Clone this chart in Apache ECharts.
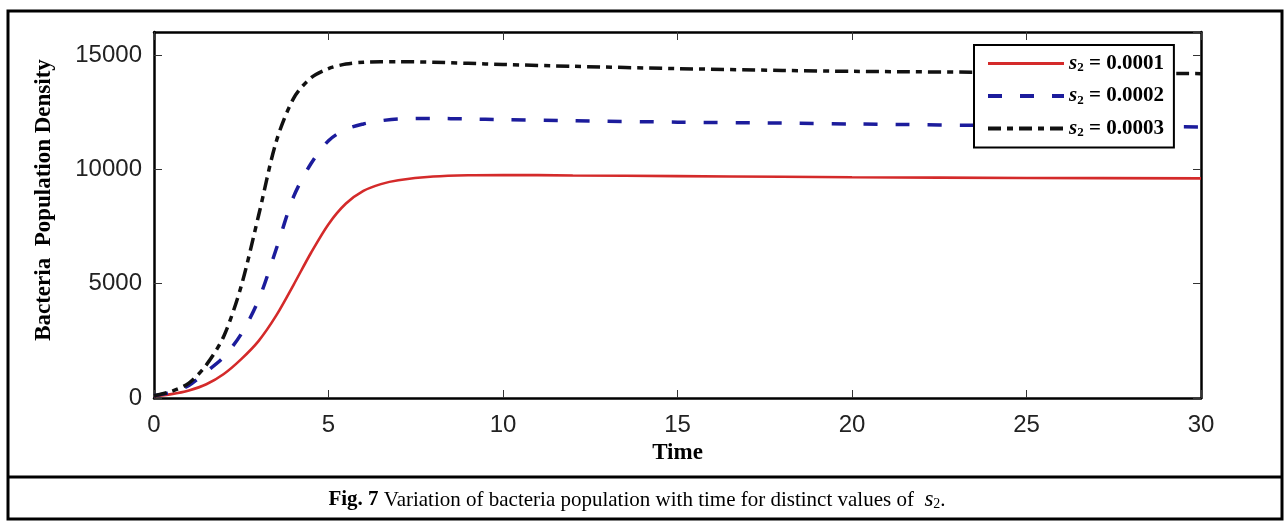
<!DOCTYPE html>
<html>
<head>
<meta charset="utf-8">
<title>Bacteria population vs time</title>
<script src="https://cdn.jsdelivr.net/npm/echarts@6/dist/echarts.min.js"></script>
<style>
  html, body { margin: 0; padding: 0; background: #fff; }
  #main { width: 1287px; height: 525px; }
</style>
</head>
<body>
<div id="main"></div>
<script>
// values
var timePoints = [0, 0.5, 1, 1.5, 2, 2.5, 3, 3.5, 4, 4.5, 5, 5.5, 6, 6.5, 7, 8, 9, 10, 12, 15, 18, 20, 25, 30];
var pop0001 = [80, 170, 330, 600, 1050, 1700, 2500, 3600, 4950, 6350, 7600, 8500, 9050, 9350, 9520, 9680, 9740, 9750, 9730, 9700, 9670, 9650, 9620, 9600];
var pop0002 = [100, 250, 550, 1150, 1800, 2800, 4300, 6500, 8800, 10250, 11250, 11750, 11980, 12120, 12200, 12220, 12200, 12170, 12120, 12060, 12020, 11980, 11900, 11850];
var pop0003 = [100, 290, 650, 1450, 2700, 4900, 8000, 11200, 13100, 14000, 14400, 14600, 14680, 14700, 14700, 14680, 14630, 14580, 14500, 14400, 14320, 14280, 14230, 14180];
var s2Values = ['0.0001', '0.0002', '0.0003'];
var xTicks = { min: 0, max: 30, interval: 5 };
var yTicks = { min: 0, max: 16000, interval: 5000 };

function pairs(ys) {
  return timePoints.map(function (t, i) { return [t, ys[i]]; });
}

var myChart = echarts.init(document.getElementById('main'));

var serifFont = '"Liberation Serif", "Times New Roman", serif';
var sansFont = '"Liberation Sans", Arial, sans-serif';

var boxAxis = {
  axisLine: { show: true, onZero: false, lineStyle: { color: '#000', width: 2.5 } },
  axisTick: { show: true, inside: true, length: 8, lineStyle: { color: '#333', width: 1 } },
  splitLine: { show: false }
};

var option = {
  backgroundColor: '#fff',
  animation: false,
  grid: { left: 154, top: 32, width: 1047, height: 366 },
  legend: {
    orient: 'vertical',
    left: 974,
    top: 45,
    z: 20,
    padding: [8, 10, 8, 12],
    borderColor: '#000',
    borderWidth: 2,
    backgroundColor: '#fff',
    itemWidth: 76,
    itemHeight: 14,
    itemGap: 11,
    itemStyle: { opacity: 0 },
    data: [
      { name: s2Values[0], lineStyle: { width: 3 } },
      { name: s2Values[1], lineStyle: { width: 4 } },
      { name: s2Values[2], lineStyle: { width: 4 } }
    ],
    formatter: function (name) {
      return '{s|s}{sub|2}{v| = ' + name + '}';
    },
    textStyle: {
      rich: {
        s: { fontFamily: serifFont, fontStyle: 'italic', fontWeight: 'bold', fontSize: 21, color: '#000' },
        sub: { fontFamily: serifFont, fontWeight: 'bold', fontSize: 13, color: '#000', padding: [9, 0, 0, 0] },
        v: { fontFamily: serifFont, fontWeight: 'bold', fontSize: 21, color: '#000' }
      }
    }
  },
  xAxis: [
    Object.assign({
      type: 'value', position: 'bottom',
      min: xTicks.min, max: xTicks.max, interval: xTicks.interval,
      name: 'Time', nameLocation: 'middle', nameGap: 42,
      nameTextStyle: { fontFamily: serifFont, fontWeight: 'bold', fontSize: 23, color: '#000' },
      axisLabel: { margin: 15, fontFamily: sansFont, fontSize: 24, color: '#222' }
    }, boxAxis),
    Object.assign({
      type: 'value', position: 'top',
      min: xTicks.min, max: xTicks.max, interval: xTicks.interval,
      axisLabel: { show: false }
    }, boxAxis)
  ],
  yAxis: [
    Object.assign({
      type: 'value', position: 'left',
      min: yTicks.min, max: yTicks.max, interval: yTicks.interval,
      name: 'Bacteria  Population Density', nameLocation: 'middle', nameGap: 98,
      nameTextStyle: { fontFamily: serifFont, fontWeight: 'bold', fontSize: 23, color: '#000', padding: [0, 0, 0, 30] },
      axisLabel: {
        margin: 12, fontFamily: sansFont, fontSize: 24, color: '#222', showMaxLabel: false,
        formatter: function (v) { return String(v); }
      }
    }, boxAxis),
    Object.assign({
      type: 'value', position: 'right',
      min: yTicks.min, max: yTicks.max, interval: yTicks.interval,
      axisLabel: { show: false }
    }, boxAxis)
  ],
  series: [
    {
      name: s2Values[0], type: 'line', smooth: 0.3, symbol: 'none', z: 3,
      data: pairs(pop0001),
      lineStyle: { color: '#d42a2a', width: 2.6, type: 'solid' },
      itemStyle: { color: '#d42a2a' }
    },
    {
      name: s2Values[1], type: 'line', smooth: 0.3, symbol: 'none', z: 4,
      data: pairs(pop0002),
      lineStyle: { color: '#1c1c9c', width: 3.5, type: [14, 18] },
      itemStyle: { color: '#1c1c9c' }
    },
    {
      name: s2Values[2], type: 'line', smooth: 0.3, symbol: 'none', z: 5,
      data: pairs(pop0003),
      lineStyle: { color: '#111', width: 3.5, type: [13, 6, 6, 6] },
      itemStyle: { color: '#111' }
    }
  ],
  graphic: [
    {
      type: 'rect', z: 100, silent: true,
      shape: { x: 8, y: 11, width: 1274, height: 508 },
      style: { fill: 'none', stroke: '#000', lineWidth: 3 }
    },
    {
      type: 'line', z: 100, silent: true,
      shape: { x1: 8, y1: 477, x2: 1282, y2: 477 },
      style: { stroke: '#000', lineWidth: 3 }
    },
    {
      type: 'text', z: 100, silent: true,
      x: 637, y: 500,
      style: {
        text: '{b|Fig. 7} Variation of bacteria population with time for distinct values of  {i|s}{sub|2}.',
        align: 'center', verticalAlign: 'middle',
        fontFamily: serifFont, fontSize: 21, fill: '#000',
        rich: {
          b: { fontFamily: serifFont, fontWeight: 'bold', fontSize: 21 },
          i: { fontFamily: serifFont, fontStyle: 'italic', fontSize: 23 },
          sub: { fontFamily: serifFont, fontSize: 14, padding: [9, 0, 0, 0] }
        }
      }
    }
  ]
};

myChart.setOption(option);
</script>
</body>
</html>
